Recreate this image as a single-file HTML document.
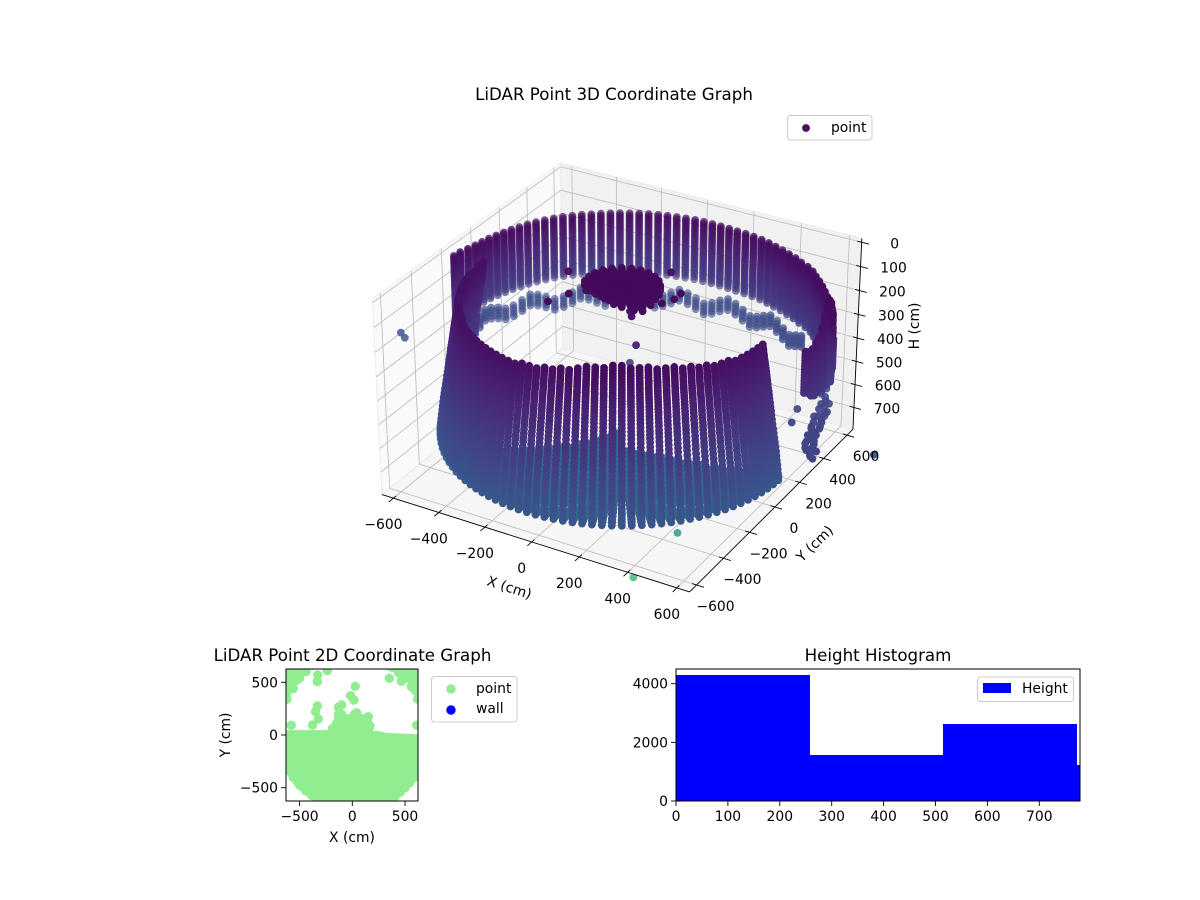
<!DOCTYPE html>
<html>
<head>
<meta charset="utf-8">
<title>LiDAR Point Graphs</title>
<style>
html,body{margin:0;padding:0;background:#fff;width:1200px;height:900px;overflow:hidden}
svg{display:block;font-family:"DejaVu Sans","Liberation Sans",sans-serif}
text{fill:#000}
</style>
</head>
<body>
<svg id="fig" xmlns="http://www.w3.org/2000/svg" width="1200" height="900" viewBox="0 0 1200 900">
  <defs>
    <clipPath id="clip2d"><rect x="286" y="669" width="132" height="132"/></clipPath>
  </defs>
  <rect x="0" y="0" width="1200" height="900" fill="#fff"/>
  <text x="614" y="100" font-size="16.67" text-anchor="middle">LiDAR Point 3D Coordinate Graph</text>
  <g id="axes3d"></g>
  <g id="marks3d"></g>
  <g id="labels3d"></g>
  <text font-size="13.89" text-anchor="middle" transform="translate(508,592) rotate(18)">X (cm)</text>
  <text font-size="13.89" text-anchor="middle" transform="translate(818,547) rotate(-44)">Y (cm)</text>
  <text font-size="13.89" text-anchor="middle" transform="translate(919,326) rotate(-90)">H (cm)</text>
  <g>
    <rect x="787.5" y="115.5" width="84.5" height="24.5" rx="3" fill="#fff" stroke="#ccc"/>
    <circle cx="806" cy="128" r="3.9" fill="#440154" fill-opacity="0.95"/>
    <text x="831" y="132" font-size="13.89">point</text>
  </g>

  <text x="352.5" y="661" font-size="16.67" text-anchor="middle">LiDAR Point 2D Coordinate Graph</text>
  <g id="marks2d" clip-path="url(#clip2d)"></g>
  <rect x="286" y="669" width="132" height="132" fill="none" stroke="#000" stroke-width="1" shape-rendering="crispEdges"/>
  <g id="axis2d"></g>
  <text x="352" y="842" font-size="13.89" text-anchor="middle">X (cm)</text>
  <text font-size="13.89" text-anchor="middle" transform="translate(230,735) rotate(-90)">Y (cm)</text>
  <g>
    <rect x="431.5" y="676.5" width="85.5" height="45.5" rx="3" fill="#fff" stroke="#ccc"/>
    <circle cx="451" cy="689" r="4.7" fill="#90ee90"/>
    <text x="476" y="693" font-size="13.89">point</text>
    <circle cx="451" cy="710" r="4.7" fill="#0000ff"/>
    <text x="476" y="713" font-size="13.89">wall</text>
  </g>

  <text x="878" y="661" font-size="16.67" text-anchor="middle">Height Histogram</text>
  <g id="bars" shape-rendering="crispEdges"></g>
  <rect x="676" y="669" width="404" height="132" fill="none" stroke="#000" stroke-width="1" shape-rendering="crispEdges"/>
  <g id="axisHist"></g>
  <g>
    <rect x="977.5" y="677" width="96" height="24.5" rx="3" fill="#fff" stroke="#ccc"/>
    <rect x="983" y="683" width="28" height="10" fill="#0000ff"/>
    <text x="1022" y="693" font-size="13.89">Height</text>
  </g>
</svg>
<script>
/* ---------- 3D data ---------- */
const xTicks3d = [-600,-400,-200,0,200,400,600];
const yTicks3d = [-600,-400,-200,0,200,400,600];
const zTicks3d = [0,100,200,300,400,500,600,700];

const wallAzimuths = [180,183,186,189,192,195,198,201,204,207,210,213,216,219,222,225,228,231,234,237,240,243,246,249,252,255,258,261,264,267,270,273,276,279,282,285,288,291,294,297,300,303,306,309,312,315,318,321,324,327,330,333,336,339,342,345,348,351,354,357];
const wallTopZ = [103,108,112,112,110,108,107,106,105,105,105,105,106,108,110,110,112,114,115,116,116,116,116,116,114,113,112,111,110,108,106,100,94,88,82,76,70,65,62,60,60,62,65,68,72,75,80,85,90,95,100,105,108,110,112,115,116,118,120,120];
const wallRowZ = [60,70,80,90,100,110,120,130,140,150,160,170,180,190,200,212,224,236,248,260,274,288,302,316,330,346,362,378,394,412,430,448,466,484,502,520,538,556,574,592,610,628,640,655];
const wallRowRadius = [590,591,592,594,595,597,599,600,602,603,605,606,608,610,612,614,616,618,620,622,624,626,629,631,633,636,638,641,643,646,649,652,655,658,661,664,667,669,671,674,676,678,680,680];

const floorAzimuths = [180,183,186,189,192,195,198,201,204,207,210,213,216,219,222,225,228,231,234,237,240,243,246,249,252,255,258,261,264,267,270,273,276,279,282,285,288,291,294,297,300,303,306,309,312,315,318,321,324,327,330,333,336,339,342,345,348,351,354,357];
const floorInnerRadius = [700,700,700,700,700,700,700,700,700,700,700,700,700,700,700,600,500,420,360,300,260,220,180,150,120,100,80,60,50,40,40,40,40,40,40,60,80,100,120,135,150,155,160,165,170,175,180,190,205,215,220,240,260,273,295,331,375,430,500,615];
const floorRadii = [40,65,90,115,140,165,190,215,240,265,290,315,340,365,390,415,440,465,490,515,540,565,590,615,640,660];
const floorZ = [655];
const floorColorZ = [840];

const backAzimuths = [15,18.2,21.4,24.6,27.8,31,34.2,37.4,40.6,43.8,47,50.2,53.4,56.6,59.8,63,66.2,69.4,72.6,75.8,79,82.2,85.4,88.6,91.8,95,98.2,101.4,104.6,107.8,111,114.2,117.4,120.6,123.8,127,130.2,133.4,136.6,139.8,143,146.2,149.4,152.6,155.8,159,162.2,165.4,168.6,171.8,175,178.2,181.4,184.6];
const backRadius = [785,778,769,759,750,743,738,733,729,728,722,712,707,700,695,690,687,684,679,674,669,667,665,664,664,664,662,661,661,661,660,660,660,660,660,660,661,664,665,667,668,668,668,668,667,667,667,668,670,671,673,680,690,695];
const backRowZ = [87,95,103,111,119,127,135,143,151,159,167,175,183,191,199,207,215,223,231,239,247,255,263,271,279,287,295,303,311,319,329,340];
const backRowColorZ = [90,100,112,124,136,148,160,172,184,196,208,220,232,244,256,268,280,292,304,316,328,340,352,364,376,388,400,410,420,428,434,440];

const lowerAzimuths = [48,51,54,57,60,63,66,69,72,75,78,81,84,87,90,93,96,99,102,105,108,111,114,117,120,123,126,129,132,135,138,141,144,147,150,153,156,159,162,165,168,171,174,177];
const lowerRadius = [712,703,695,688,682,676,670,666,662,658,654,650,645,640,636,632,628,622,618,617,616,616,616,616,616,616,616,616,617,618,620,630,640,648,650,650,655,664,670,673,675,675,672,668];
const lowerBaseZ = [380,395,410,398,382,372,388,405,415,400,385,375,390,408,418,402,386,374,390,406,416,400,384,376,392,408,414,398,382,374,390,406,416,402,386,376,392,408,412,396,384,378,392,404];
const lowerRowOffset = [0,12,24,36,48];
const lowerColorZ = [565];

const patchAzimuths = [6,8,10,12,14,16,18,20,22,24,26,28,30];
const patchRadius = [720,725,730,735,740,745,750,755,760,765,770,775,780];
const patchTopZ = [168,171,171,162,154,125,95,67,60,74,132,211,269];
const patchBottomZ = [339,359,372,385,389,394,399,405,410,408,406,403,397];
const patchRowZ = [60,72,84,96,108,120,132,144,156,168,180,192,204,216,228,240,252,264,276,288,300,312,324,336,348,360,372,384,396,408];

const blobAzimuths = [0,15,30,45,60,75,90,105,120,135,150,165,180,195,210,225,240,255,270,285,300,315,330,345];
const blobEdgeRadius = [145,140,140,140,140,140,140,140,140,140,140,140,140,140,130,105,95,90,95,110,130,150,150,148];
const blobRadii = [0,20,40,60,80,90,100,110,120,130,140,150];
const blobRowZ = [55,65,75];
const lumpX = [162,130,100,60,20,-30,190,120,150];
const lumpY = [-73,-90,-100,-110,-90,-70,-40,-120,-110];
const lumpZ = [60,70,70,70,60,60,60,70,70];

const strayX = [-233,27,-1063,-1079,940,3,92,64,70,-231,100,-140,-174,213,213,649,622,611,647,647,685,681,706,691,727,711,732,718,743,731,757,741,767,757,780,774,796,809,831,640,670,700,722,735,750,745,770,790,785,750,760,820,815,700,725];
const strayY = [498,395,133,130,217,55,-55,-51,-50,8,189,-143,-232,10,61,120,218,432,408,364,326,296,311,258,253,209,222,160,175,116,130,68,83,27,40,-17,-4,-50,-72,380,350,285,240,190,150,100,60,20,-30,60,10,-20,-60,200,130];
const strayZ = [1672,1320,620,600,600,400,250,120,140,60,60,60,60,60,60,500,500,500,500,500,500,500,500,500,500,500,500,500,500,500,500,500,500,500,500,500,500,500,500,500,500,500,500,500,500,500,500,500,500,500,500,500,500,500,500];

/* ---------- 2D data ---------- */
const fillColumnX = [-620,-560,-500,-440,-380,-320,-260,-200,-140,-80,-20,40,100,160,220,280,340,400,460,520,580,640];
const fillColumnTop = [3,3,3,3,3,3,3,3,3,3,3,3,3,3,-3,-14,-24,-27,-29,-31,-34,-36];
const fillColumnBottom = [-303,-403,-475,-531,-576,-611,-639,-660,-676,-685,-690,-689,-683,-671,-654,-630,-600,-562,-518,-465,-398,-315];
const fillRowY = [-660,-600,-540,-480,-420,-360,-300,-240,-180,-120,-60];
const topEdgeX = [-590,-530,-470,-410,-350,-290,-230,250,310,370,430,490,550,610];
const topEdgeY = [3,3,3,3,3,3,3,-8,-20,-26,-28,-30,-33,-36];
const rimX = [-594,-561,-525,-484,-441,-393,-343,-290,-235,-177,183,243,300,355,407,455,500,542,580,613];
const rimY = [-343,-393,-441,-484,-525,-561,-594,-621,-644,-662,-684,-665,-642,-613,-580,-542,-500,-455,-407,-355];
const moundX = [-190,-140,-90,-40,10,60,110,160,-150,-100,-50,0,50,100,150,-130,-90,-45,0,45,95,140,-130,-100,20,45];
const moundY = [60,60,60,60,60,60,60,60,110,110,110,110,110,110,110,155,155,155,155,155,155,155,195,195,195,195];
const isolatedX = [-332,-329,-237,28,-16,16,-332,-348,-323,-377,-579,-101,-133,41,152,168,611,351,465];
const isolatedY = [506,570,610,462,373,332,275,221,152,95,92,285,263,212,174,85,92,538,510];
const cornerX = [-620,-620,-620,-620,-620,-620,-560,-560,-560,-560,-500,-500,-440,-440,-380,-660,-575,-526,620,620,620,620,620,620,560,560,560,560,500,500,440,440,380,330,664,600,481];
const cornerY = [340,400,460,520,580,620,440,500,560,620,540,600,600,640,660,320,455,521,340,400,460,520,580,620,460,520,580,640,540,600,590,640,640,656,320,420,539];

/* ---------- histogram data ---------- */
const binEdges = [0,258,515,772,1030];
const binCounts = [4290,1570,2625,1227];
const histXTicks = [0,100,200,300,400,500,600,700];
const histYTicks = [0,2000,4000];
const xTicks2d = [-500,0,500];
const yTicks2d = [-500,0,500];

/* ---------- 3D projection ---------- */
const X_LIM = [-651,651], Y_LIM = [-651,651], Z_LIM = [-16,796];
const HX = 0.59524, HY = 0.59524, HZ = 0.387, DIST = 10;
const U = [0.86603,0.5,0], V = [-0.25,0.43301,0.86603], W = [0.43301,-0.75,0.5];
const CX = 621.8, CY = 366.5, SX = 2951, SY = 2884;
function boxCoords(x,y,z){
  return [
    (x-(X_LIM[0]+X_LIM[1])/2)/(X_LIM[1]-X_LIM[0])*2*HX,
    (y-(Y_LIM[0]+Y_LIM[1])/2)/(Y_LIM[1]-Y_LIM[0])*2*HY,
    -(z-(Z_LIM[0]+Z_LIM[1])/2)/(Z_LIM[1]-Z_LIM[0])*2*HZ
  ];
}
function project(x,y,z){
  const p = boxCoords(x,y,z);
  const d = p[0]*W[0]+p[1]*W[1]+p[2]*W[2];
  const den = DIST-d;
  return {
    x: CX+SX*(p[0]*U[0]+p[1]*U[1]+p[2]*U[2])/den,
    y: CY-SY*(p[0]*V[0]+p[1]*V[1]+p[2]*V[2])/den,
    depth: d
  };
}
const NS = 'http://www.w3.org/2000/svg';
function line(parent,a,b,stroke,width,name){
  const el = document.createElementNS(NS,'line');
  el.setAttribute('x1',a.x.toFixed(2));
  el.setAttribute('y1',a.y.toFixed(2));
  el.setAttribute('x2',b.x.toFixed(2));
  el.setAttribute('y2',b.y.toFixed(2));
  el.setAttribute('stroke',stroke);
  el.setAttribute('stroke-width',width);
  
  
  parent.appendChild(el);
}
function poly(parent,pts,fill,name){
  const el = document.createElementNS(NS,'polygon');
  el.setAttribute('points',pts.map(p=>p.x.toFixed(2)+','+p.y.toFixed(2)).join(' '));
  el.setAttribute('fill',fill);
  el.setAttribute('stroke','#e9e9e9');
  el.setAttribute('stroke-width','0.8');
  
  
  parent.appendChild(el);
}
function label(parent,x,y,str,anchor,name){
  const el = document.createElementNS(NS,'text');
  el.setAttribute('x',x.toFixed(2));
  el.setAttribute('y',y.toFixed(2));
  el.setAttribute('font-size','13.89');
  el.setAttribute('text-anchor',anchor);
  el.textContent = String(str).replace('-','\u2212');
  
  
  parent.appendChild(el);
}

/* panes + grid */
const ax = document.getElementById('axes3d');
const [x0,x1] = X_LIM, [y0,y1] = Y_LIM, zTop = Z_LIM[0], zBot = Z_LIM[1];
poly(ax,[project(x0,y0,zBot),project(x1,y0,zBot),project(x1,y1,zBot),project(x0,y1,zBot)],'#f6f6f6','floor-pane');
poly(ax,[project(x0,y0,zBot),project(x0,y1,zBot),project(x0,y1,zTop),project(x0,y0,zTop)],'#fafafa','left-pane');
poly(ax,[project(x0,y1,zBot),project(x1,y1,zBot),project(x1,y1,zTop),project(x0,y1,zTop)],'#f1f1f1','back-pane');
const GRID = '#bdbdbd';
xTicks3d.forEach(t=>{
  line(ax,project(t,y0,zBot),project(t,y1,zBot),GRID,0.85,'x-gridline-floor');
  line(ax,project(t,y1,zBot),project(t,y1,zTop),GRID,0.85,'x-gridline-back');
});
yTicks3d.forEach(t=>{
  line(ax,project(x0,t,zBot),project(x1,t,zBot),GRID,0.85,'y-gridline-floor');
  line(ax,project(x0,t,zBot),project(x0,t,zTop),GRID,0.85,'y-gridline-left');
});
zTicks3d.forEach(t=>{
  line(ax,project(x0,y0,t),project(x0,y1,t),GRID,0.85,'z-gridline-left');
  line(ax,project(x0,y1,t),project(x1,y1,t),GRID,0.85,'z-gridline-back');
});

/* colour map */
const VIRIDIS = ['#440154','#482475','#414487','#355f8d','#2a788e','#21918c','#22a884','#44bf70','#7ad151','#bddf26','#fde725'];
const C_MAX = 2460;
function hex(s){return [parseInt(s.slice(1,3),16),parseInt(s.slice(3,5),16),parseInt(s.slice(5,7),16)];}
function viridis(t){
  t = Math.max(0,Math.min(1,t))*(VIRIDIS.length-1);
  const i = Math.min(Math.floor(t),VIRIDIS.length-2), f = t-i;
  const a = hex(VIRIDIS[i]), b = hex(VIRIDIS[i+1]);
  return 'rgb('+[0,1,2].map(k=>Math.round(a[k]+(b[k]-a[k])*f)).join(',')+')';
}

/* assemble point list: [x, y, z, colourValue, minimumAlpha] */
const cloud = [];
function polar(r,deg,z,c){
  const a = deg*Math.PI/180;
  cloud.push([r*Math.cos(a),r*Math.sin(a),z,c,0]);
}
wallAzimuths.forEach((az,i)=>{
  wallRowZ.forEach((z,j)=>{ if(z>=wallTopZ[i]) polar(wallRowRadius[j],az,z,z); });
});
floorAzimuths.forEach((az,i)=>{
  floorRadii.forEach(r=>{ if(r>=floorInnerRadius[i]) polar(r,az,floorZ[0],floorColorZ[0]); });
});
backAzimuths.forEach((az,i)=>{
  backRowZ.forEach((z,j)=>polar(backRadius[i],az,z,backRowColorZ[j]));
});
lowerAzimuths.forEach((az,i)=>{
  lowerRowOffset.forEach(o=>polar(lowerRadius[i],az,lowerBaseZ[i]+o,lowerColorZ[0]));
});
patchAzimuths.forEach((az,i)=>{
  patchRowZ.forEach(z=>{ if(z>=patchTopZ[i]&&z<=patchBottomZ[i]) polar(patchRadius[i],az,z,z); });
});
blobAzimuths.forEach((az,i)=>{
  blobRadii.forEach(r=>{
    if(r<=blobEdgeRadius[i]) blobRowZ.forEach(z=>polar(r,az,z,z));
  });
});
lumpX.forEach((x,i)=>cloud.push([x,lumpY[i],lumpZ[i],lumpZ[i],0]));
strayX.forEach((x,i)=>cloud.push([x,strayY[i],strayZ[i],strayZ[i],0.82]));

const projected = cloud.map(p=>{ const q = project(p[0],p[1],p[2]); q.c = p[3]; q.minAlpha = p[4]; return q; });
projected.sort((a,b)=>a.depth-b.depth);
const dMin = -0.75, dMax = 0.75;
const marks3d = document.getElementById('marks3d');
projected.forEach(q=>{
  const el = document.createElementNS(NS,'circle');
  el.setAttribute('cx',q.x.toFixed(2));
  el.setAttribute('cy',q.y.toFixed(2));
  el.setAttribute('r','3.9');
  el.setAttribute('fill',viridis(q.c/C_MAX));
  const t = Math.max(0,Math.min(1,(q.depth-dMin)/(dMax-dMin)));
  el.setAttribute('fill-opacity',Math.max(q.minAlpha,0.45+0.55*Math.min(1,t*1.6)).toFixed(2));
  
  
  marks3d.appendChild(el);
});

/* axis lines, ticks, tick labels */
const lb = document.getElementById('labels3d');
line(lb,project(x0,y0,zBot),project(x1,y0,zBot),'#000',0.9,'x-axis-line-3d');
line(lb,project(x1,y0,zBot),project(x1,y1,zBot),'#000',0.9,'y-axis-line-3d');
line(lb,project(x1,y1,zBot),project(x1,y1,zTop),'#000',0.9,'z-axis-line-3d');
xTicks3d.forEach(t=>{
  line(lb,project(t,y0+18,zBot),project(t,y0-30,zBot),'#000',0.9,'x-tick-3d');
  const a = project(t,y0,zBot);
  label(lb,a.x-10,a.y+31,t,'middle','x-tick-label-3d');
});
yTicks3d.forEach(t=>{
  line(lb,project(x1-18,t,zBot),project(x1+30,t,zBot),'#000',0.9,'y-tick-3d');
  const a = project(x1,t,zBot);
  label(lb,a.x+19,a.y+26,t,'middle','y-tick-label-3d');
});
zTicks3d.forEach(t=>{
  line(lb,project(x1-18,y1,t),project(x1+30,y1,t),'#000',0.9,'z-tick-3d');
  const a = project(x1,y1,t);
  label(lb,a.x+33,a.y+6,t,'middle','z-tick-label-3d');
});

/* ---------- 2D scatter ---------- */
const s2x = v=>352.3+v*0.1054;
const s2y = v=>735-v*0.1054;
const marks2d = document.getElementById('marks2d');
function dot2d(x,y){
  const el = document.createElementNS(NS,'circle');
  el.setAttribute('cx',s2x(x).toFixed(2));
  el.setAttribute('cy',s2y(y).toFixed(2));
  el.setAttribute('r','4.7');
  el.setAttribute('fill','#90ee90');
  
  
  marks2d.appendChild(el);
}
fillColumnX.forEach((x,i)=>{
  dot2d(x,fillColumnTop[i]);
  dot2d(x,fillColumnBottom[i]);
  fillRowY.forEach(y=>{ if(y<fillColumnTop[i]&&y>fillColumnBottom[i]) dot2d(x,y); });
});
topEdgeX.forEach((x,i)=>dot2d(x,topEdgeY[i]));
rimX.forEach((x,i)=>dot2d(x,rimY[i]));
moundX.forEach((x,i)=>dot2d(x,moundY[i]));
isolatedX.forEach((x,i)=>dot2d(x,isolatedY[i]));
cornerX.forEach((x,i)=>dot2d(x,cornerY[i]));
const a2d = document.getElementById('axis2d');
xTicks2d.forEach(t=>{
  line(a2d,{x:s2x(t),y:801},{x:s2x(t),y:806},'#000',0.9,'x-tick-2d');
  label(a2d,s2x(t),821,t,'middle','x-tick-label-2d');
});
yTicks2d.forEach(t=>{
  line(a2d,{x:286,y:s2y(t)},{x:281,y:s2y(t)},'#000',0.9,'y-tick-2d');
  label(a2d,278,s2y(t)+5,t,'end','y-tick-label-2d');
});

/* ---------- histogram ---------- */
const hx = v=>676+v*0.519;
const hy = v=>801-v*0.02933;
const bars = document.getElementById('bars');
binCounts.forEach((c,i)=>{
  const left = Math.round(hx(binEdges[i]));
  const right = Math.min(Math.round(hx(binEdges[i+1])),1080);
  const el = document.createElementNS(NS,'rect');
  el.setAttribute('x',left);
  el.setAttribute('y',hy(c).toFixed(2));
  el.setAttribute('width',right-left);
  el.setAttribute('height',(801-hy(c)).toFixed(2));
  el.setAttribute('fill','#0000ff');
  
  
  bars.appendChild(el);
});
const aH = document.getElementById('axisHist');
histXTicks.forEach(t=>{
  line(aH,{x:hx(t),y:801},{x:hx(t),y:806},'#000',0.9,'histogram-x-tick');
  label(aH,hx(t),821,t,'middle','histogram-x-tick-label');
});
histYTicks.forEach(t=>{
  line(aH,{x:676,y:hy(t)},{x:671,y:hy(t)},'#000',0.9,'histogram-y-tick');
  label(aH,668,hy(t)+5,t,'end','histogram-y-tick-label');
});
</script>
</body>
</html>
